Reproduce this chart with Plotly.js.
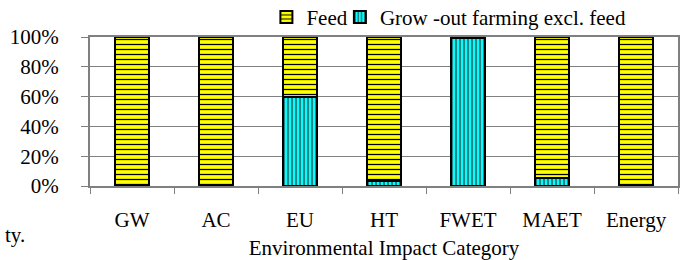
<!DOCTYPE html>
<html>
<head>
<meta charset="utf-8">
<script src="https://cdn.plot.ly/plotly-3.0.1.min.js"></script>
<style>html,body{margin:0;padding:0;background:#fff;}#chart{width:681px;height:260px;}</style>
</head>
<body>
<div id="chart"></div>
<script>
const categories = ['GW', 'AC', 'EU', 'HT', 'FWET', 'MAET', 'Energy'];
const feedShare = [99.5, 99.5, 40, 96.5, 0.5, 94.5, 99];
const growoutShare = [0.5, 0.5, 60, 3.5, 99.5, 5.5, 1];
const seriesNames = ['Feed', 'Grow -out farming excl. feed'];
const yTickVals = [0, 20, 40, 60, 80, 100];
const yTickText = ['0%', '20%', '40%', '60%', '80%', '100%'];

const font = {family: 'Liberation Serif', size: 21, color: '#000'};

const traces = [
  {
    type: 'bar', name: seriesNames[1], x: categories, y: growoutShare, legend: 'legend2',
    marker: {color: '#00FFFF', line: {color: '#000', width: 2},
      pattern: {shape: '|', fgcolor: '#333', bgcolor: '#00FFFF', size: 4, solidity: 0.3}}
  },
  {
    type: 'bar', name: seriesNames[0], x: categories, y: feedShare, legend: 'legend',
    marker: {color: '#FFFF00', line: {color: '#000', width: 2},
      pattern: {shape: '-', fgcolor: '#000', bgcolor: '#FFFF00', size: 5, solidity: 0.25}}
  }
];

const legendBase = {orientation: 'h', xanchor: 'left', y: 1.27, yanchor: 'top',
  font: font, itemwidth: 30, bgcolor: 'rgba(0,0,0,0)'};

const layout = {
  width: 681, height: 260,
  margin: {l: 90, r: 3, t: 37, b: 74, autoexpand: false},
  paper_bgcolor: '#fff', plot_bgcolor: '#fff',
  barmode: 'stack', bargap: 0.6,
  font: font,
  showlegend: true,
  legend: Object.assign({}, legendBase, {x: 0.30}),
  legend2: Object.assign({}, legendBase, {x: 0.425}),
  xaxis: {
    type: 'category', tickson: 'boundaries', ticks: 'outside', ticklen: 6, tickcolor: '#808080',
    showline: true, linecolor: '#808080', linewidth: 2, mirror: true, showgrid: false,
    ticklabelstandoff: 14, tickfont: font,
    title: {text: 'Environmental Impact Category', font: font, standoff: 10}
  },
  yaxis: {
    range: [0, 100], tickvals: yTickVals, ticktext: yTickText, ticks: 'outside', ticklen: 7, tickcolor: '#808080',
    showline: true, linecolor: '#808080', linewidth: 2, mirror: true,
    showgrid: true, gridcolor: '#808080', gridwidth: 1, zeroline: false,
    ticklabelstandoff: 18, tickfont: font
  },
  annotations: [
    {text: 'ty.', xref: 'paper', yref: 'paper', x: -0.148, y: -0.33, xanchor: 'left', yanchor: 'middle',
      showarrow: false, font: font}
  ]
};

Plotly.newPlot('chart', traces, layout, {displayModeBar: false, staticPlot: true});
</script>
</body>
</html>
